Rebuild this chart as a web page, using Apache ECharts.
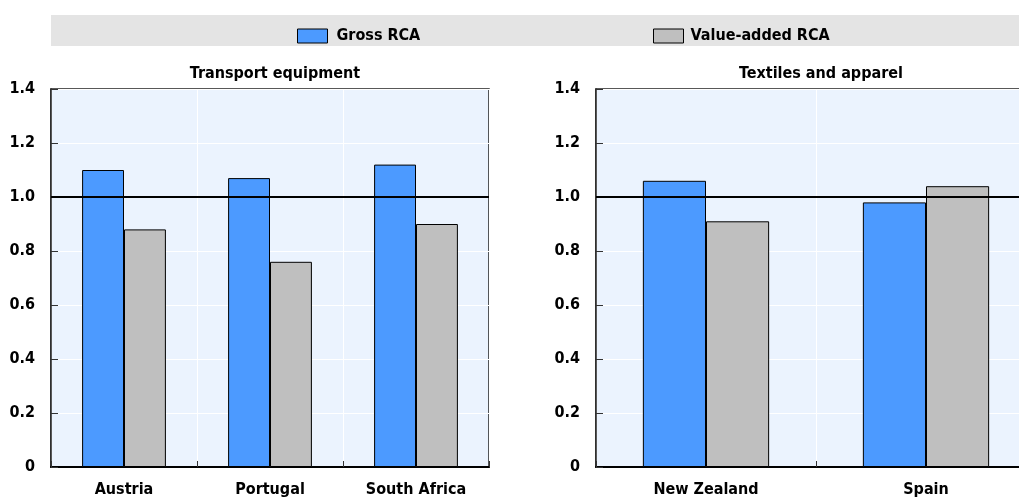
<!DOCTYPE html>
<html><head><meta charset="utf-8">
<script src="https://cdn.jsdelivr.net/npm/echarts@6/dist/echarts.min.js"></script>
<style>html,body{margin:0;padding:0;background:#fff}#c{width:1019px;height:500px}</style>
</head><body><div id="c"></div>
<script>
const seriesNames = ['Gross RCA', 'Value-added RCA'];
const panelTitles = ['Transport equipment', 'Textiles and apparel'];
const catsLeft = ['Austria', 'Portugal', 'South Africa'];
const grossLeft = [1.10, 1.07, 1.12];
const vaLeft = [0.88, 0.76, 0.90];
const catsRight = ['New Zealand', 'Spain'];
const grossRight = [1.06, 0.98];
const vaRight = [0.91, 1.04];
const yTicks = [0, 0.2, 0.4, 0.6, 0.8, 1.0, 1.2, 1.4];

const FONT = '"Liberation Sans Narrow","DejaVu Sans Condensed","Arial Narrow",sans-serif';
const BLUE = '#4C9AFF', GREY = '#BFBFBF';
const chart = echarts.init(document.getElementById('c'), null, {renderer: 'canvas'});

const grids = [
  {left: 51, top: 89, width: 438, height: 378},
  {left: 596, top: 89, width: 440, height: 378}
];
function xAxis(i, cats) {
  return {type: 'category', gridIndex: i, data: cats,
    axisLine: {show: true, lineStyle: {color: '#000', width: 2}},
    axisTick: {show: true, inside: true, length: 6, lineStyle: {color: '#333'}},
    axisLabel: {color: '#000', fontFamily: FONT, fontWeight: 'bold', fontSize: 16, margin: 15},
    splitLine: {show: true, lineStyle: {color: '#fff', width: 1}}};
}
function yAxis(i) {
  return {type: 'value', gridIndex: i, min: yTicks[0], max: yTicks[yTicks.length - 1], interval: 0.2,
    axisLine: {show: true, lineStyle: {color: '#222', width: 1.5}},
    axisTick: {show: true, inside: true, length: 7, lineStyle: {color: '#333'}},
    axisLabel: {color: '#000', fontFamily: FONT, fontWeight: 'bold', fontSize: 16, margin: 16,
      formatter: v => v === 0 ? '0' : v.toFixed(1)},
    splitLine: {show: true, lineStyle: {color: '#fff', width: 1}}};
}
function bars(name, data, color, i, withLine) {
  const s = {name: name, type: 'bar', xAxisIndex: i, yAxisIndex: i, data: data,
    barWidth: '28.7%', barGap: '0%',
    itemStyle: {color: color, borderColor: '#000', borderWidth: 1}};
  if (withLine) {
    s.markLine = {silent: true, symbol: 'none', label: {show: false},
      lineStyle: {color: '#000', width: 2, type: 'solid'}, data: [{yAxis: 1}], z: 10};
  }
  return s;
}
chart.setOption({
  animation: false,
  backgroundColor: '#fff',
  graphic: [{type: 'rect', shape: {x: 51, y: 15, width: 968, height: 31}, style: {fill: '#E4E4E4'}, z: -1}],
  legend: [
    {data: [seriesNames[0]], left: 292, top: 23, itemWidth: 30, itemHeight: 14, itemGap: 16, icon: 'rect',
      itemStyle: {borderColor: '#000', borderWidth: 1},
      textStyle: {fontFamily: FONT, fontWeight: 'bold', fontSize: 16, color: '#000', padding: [0, 0, 0, 4]}},
    {data: [seriesNames[1]], left: 648, top: 23, itemWidth: 30, itemHeight: 14, itemGap: 16, icon: 'rect',
      itemStyle: {borderColor: '#000', borderWidth: 1},
      textStyle: {fontFamily: FONT, fontWeight: 'bold', fontSize: 16, color: '#000', padding: [0, 0, 0, 2]}}
  ],
  title: [
    {text: panelTitles[0], left: 270, top: 61, textAlign: 'center',
      textStyle: {fontFamily: FONT, fontWeight: 'bold', fontSize: 16, color: '#000'}},
    {text: panelTitles[1], left: 816, top: 61, textAlign: 'center',
      textStyle: {fontFamily: FONT, fontWeight: 'bold', fontSize: 16, color: '#000'}}
  ],
  grid: grids.map(g => Object.assign({show: true, backgroundColor: '#EBF3FE', borderColor: '#222', borderWidth: 1.5,
    outerBoundsMode: 'none', containLabel: false}, g)),
  xAxis: [xAxis(0, catsLeft), xAxis(1, catsRight)],
  yAxis: [yAxis(0), yAxis(1)],
  series: [
    bars(seriesNames[0], grossLeft, BLUE, 0, true),
    bars(seriesNames[1], vaLeft, GREY, 0, false),
    bars(seriesNames[0], grossRight, BLUE, 1, true),
    bars(seriesNames[1], vaRight, GREY, 1, false)
  ]
});
</script></body></html>
